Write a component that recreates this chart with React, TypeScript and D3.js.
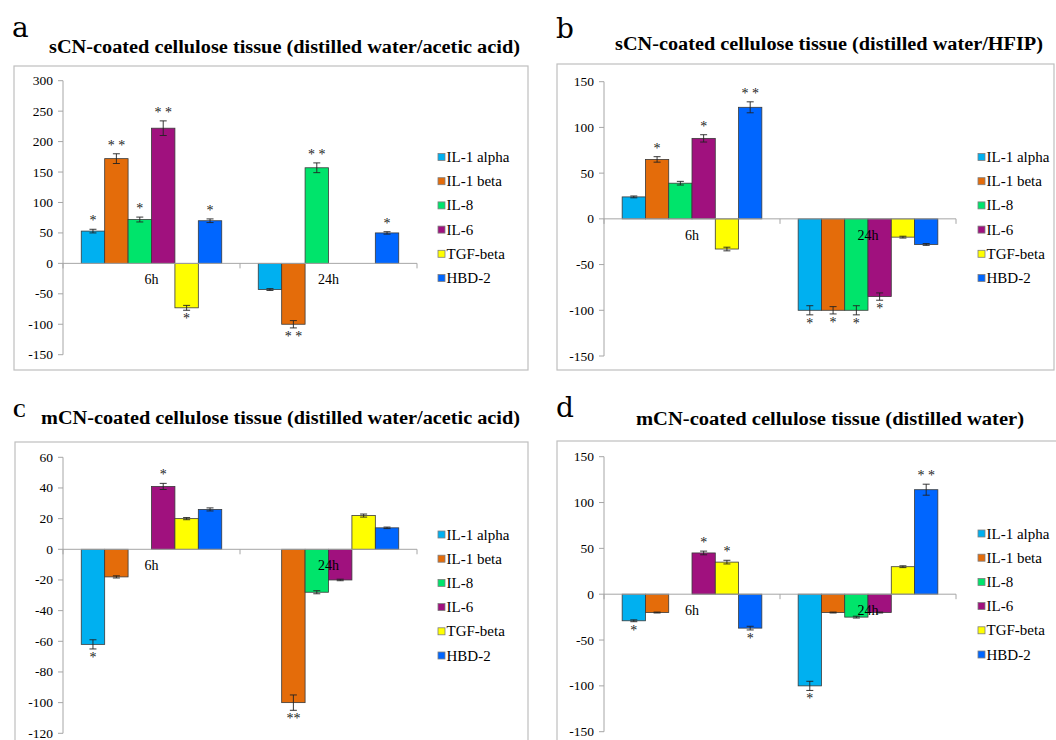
import React from 'react';
import * as d3 from 'd3';

const series = ['IL-1 alpha', 'IL-1 beta', 'IL-8', 'IL-6', 'TGF-beta', 'HBD-2'];
const colors = ['#00b0f0', '#e46c0a', '#00e46b', '#a0117e', '#ffff00', '#0066ff'];
const groups = ['6h', '24h'];

// panel a
const aValues = [[53, 172, 72, 222, -73, 70], [-43, -100, 157, null, null, 50]];
const aErrors = [[3, 8, 4, 12, 4, 3], [1.5, 6, 8, 0, 0, 2]];
const aStars = [['*', '* *', '*', '* *', '*', '*'], ['', '* *', '* *', '', '', '*']];
const aTicks = [300, 250, 200, 150, 100, 50, 0, -50, -100, -150];

// panel b
const bValues = [[24, 65, 39, 88, -33, 122], [-100, -100, -100, -85, -20, -28]];
const bErrors = [[1, 3, 2, 4, 2, 6], [5, 4, 5, 4, 1, 1]];
const bStars = [['', '*', '', '*', '', '* *'], ['*', '*', '*', '*', '', '']];
const bTicks = [150, 100, 50, 0, -50, -100, -150];

// panel c
const cValues = [[-62, -18, null, 41, 20, 26], [null, -100, -28, -20, 22, 14]];
const cErrors = [[3, 0.7, 0, 2, 0.7, 1], [0, 5, 1, 0.5, 1, 0.5]];
const cStars = [['*', '', '', '*', '', ''], ['', '**', '', '', '', '']];
const cTicks = [60, 40, 20, 0, -20, -40, -60, -80, -100, -120];

// panel d
const dValues = [[-29, -20, null, 45, 35, -37], [-100, -20, -25, -20, 30, 114]];
const dErrors = [[1, 0.5, 0, 2, 2, 2], [5, 0.5, 1, 0.5, 1, 6]];
const dStars = [['*', '', '', '*', '*', '*'], ['*', '', '', '', '', '* *']];
const dTicks = [150, 100, 50, 0, -50, -100, -150];

const serif = '"Liberation Serif", "Times New Roman", serif';
const letterFont = '"DejaVu Serif", serif';

const panels = [
  {
    letter: 'a', lx: 12, ly: 36.5, lsize: 28, lbold: false,
    title: 'sCN-coated cellulose tissue (distilled water/acetic acid)', tx: 49, ty: 53, tw: 471,
    box: [14, 66, 514, 304], plot: [63, 417, 354.7, 80.7],
    values: aValues, errors: aErrors, stars: aStars, ticks: aTicks,
    legend: [438, 157],
  },
  {
    letter: 'b', lx: 556, ly: 38.3, lsize: 28, lbold: false,
    title: 'sCN-coated cellulose tissue (distilled water/HFIP)', tx: 615, ty: 50, tw: 428,
    box: [557, 64, 497, 306], plot: [604, 956, 356, 81.7],
    values: bValues, errors: bErrors, stars: bStars, ticks: bTicks,
    legend: [978, 157],
  },
  {
    letter: 'C', lx: 13, ly: 417, lsize: 18, lbold: true,
    title: 'mCN-coated cellulose tissue (distilled water/acetic acid)', tx: 41, ty: 423.5, tw: 479,
    box: [15, 442, 513, 310], plot: [63, 417, 733.3, 457.3],
    values: cValues, errors: cErrors, stars: cStars, ticks: cTicks,
    legend: [438, 534.5],
  },
  {
    letter: 'd', lx: 556, ly: 417, lsize: 28, lbold: false,
    title: 'mCN-coated cellulose tissue (distilled water)', tx: 636, ty: 424.5, tw: 388,
    box: [557, 441, 510, 310], plot: [604, 956, 731.7, 456.7],
    values: dValues, errors: dErrors, stars: dStars, ticks: dTicks,
    legend: [978, 533.5],
  },
];

function Panel({ p }: { p: any }) {
  const [x0, x1, yb, yt] = p.plot;
  const ticks: number[] = p.ticks;
  const y = d3.scaleLinear().domain([ticks[ticks.length - 1], ticks[0]]).range([yb, yt]);
  const xg = d3.scaleBand().domain(groups).range([x0, x1]);
  const xs = d3.scaleBand().domain(series).range([0, xg.bandwidth()]).paddingOuter(0.78);
  const zero = y(0);
  const bw = xs.bandwidth();

  return (
    <g>
      <text x={p.lx} y={p.ly} style={{ fontFamily: p.lbold ? serif : letterFont }} fontSize={p.lsize}
        fontWeight={p.lbold ? 'bold' : 'normal'}>{p.letter}</text>
      <text x={p.tx} y={p.ty} style={{ fontFamily: serif }} fontSize={18} fontWeight="bold"
        textLength={p.tw} lengthAdjust="spacingAndGlyphs">{p.title}</text>
      <rect x={p.box[0]} y={p.box[1]} width={p.box[2]} height={p.box[3]} fill="#fff" stroke="#bfbfbf" strokeWidth={1.2} />

      {/* y axis */}
      <line x1={x0} x2={x0} y1={yt} y2={yb} stroke="#a6a6a6" />
      {ticks.map((t) => (
        <g key={t}>
          <line x1={x0 - 5} x2={x0} y1={y(t)} y2={y(t)} stroke="#a6a6a6" />
          <text x={x0 - 10} y={y(t) + 4.5} textAnchor="end" style={{ fontFamily: serif }} fontSize={13.5}>{t}</text>
        </g>
      ))}

      {/* bars */}
      {groups.map((g, gi) => series.map((s, si) => {
        const v = p.values[gi][si];
        if (v === null || v === 0) return null;
        const bx = (xg(g) as number) + (xs(s) as number);
        const yv = y(v);
        const e = p.errors[gi][si];
        const cx = bx + bw / 2;
        const yTop = y(v + e), yBot = y(v - e);
        const st = p.stars[gi][si];
        const sy = v > 0 ? yTop - 4 : yBot + 13;
        return (
          <g key={g + s}>
            <rect x={bx} y={Math.min(yv, zero)} width={bw} height={Math.abs(yv - zero)}
              fill={colors[si]} stroke="#3a3a3a" strokeWidth={0.8} />
            {e > 0 && (
              <g stroke="#222" strokeWidth={0.9}>
                <line x1={cx} x2={cx} y1={yTop} y2={yBot} />
                <line x1={cx - 3.5} x2={cx + 3.5} y1={yTop} y2={yTop} />
                <line x1={cx - 3.5} x2={cx + 3.5} y1={yBot} y2={yBot} />
              </g>
            )}
            {st && (
              <text x={cx} y={sy} textAnchor="middle" style={{ fontFamily: serif }} fontSize={14} fill="#222">{st}</text>
            )}
          </g>
        );
      }))}

      {/* x axis */}
      <line x1={x0} x2={x1} y1={zero} y2={zero} stroke="#a6a6a6" />
      {[x0, x0 + xg.bandwidth(), x1].map((tx) => (
        <line key={tx} x1={tx} x2={tx} y1={zero} y2={zero + 5} stroke="#a6a6a6" />
      ))}
      {groups.map((g) => (
        <text key={g} x={(xg(g) as number) + xg.bandwidth() / 2} y={zero + 21} textAnchor="middle"
          style={{ fontFamily: serif }} fontSize={14}>{g}</text>
      ))}

      {/* legend */}
      {series.map((s, si) => {
        const ly = p.legend[1] + si * 24.2;
        return (
          <g key={s}>
            <rect x={p.legend[0]} y={ly - 3.5} width={7} height={7} fill={colors[si]} stroke="#7f7f7f" strokeWidth={0.8} />
            <text x={p.legend[0] + 8.5} y={ly + 5} style={{ fontFamily: serif }} fontSize={15}>{s}</text>
          </g>
        );
      })}
    </g>
  );
}

export default function App() {
  return (
    <svg width={1056} height={740} style={{ position: 'absolute', left: 0, top: 0, background: '#fff' }}>
      <rect width={1056} height={740} fill="#fff" />
      {panels.map((p) => <Panel key={p.letter} p={p} />)}
    </svg>
  );
}
